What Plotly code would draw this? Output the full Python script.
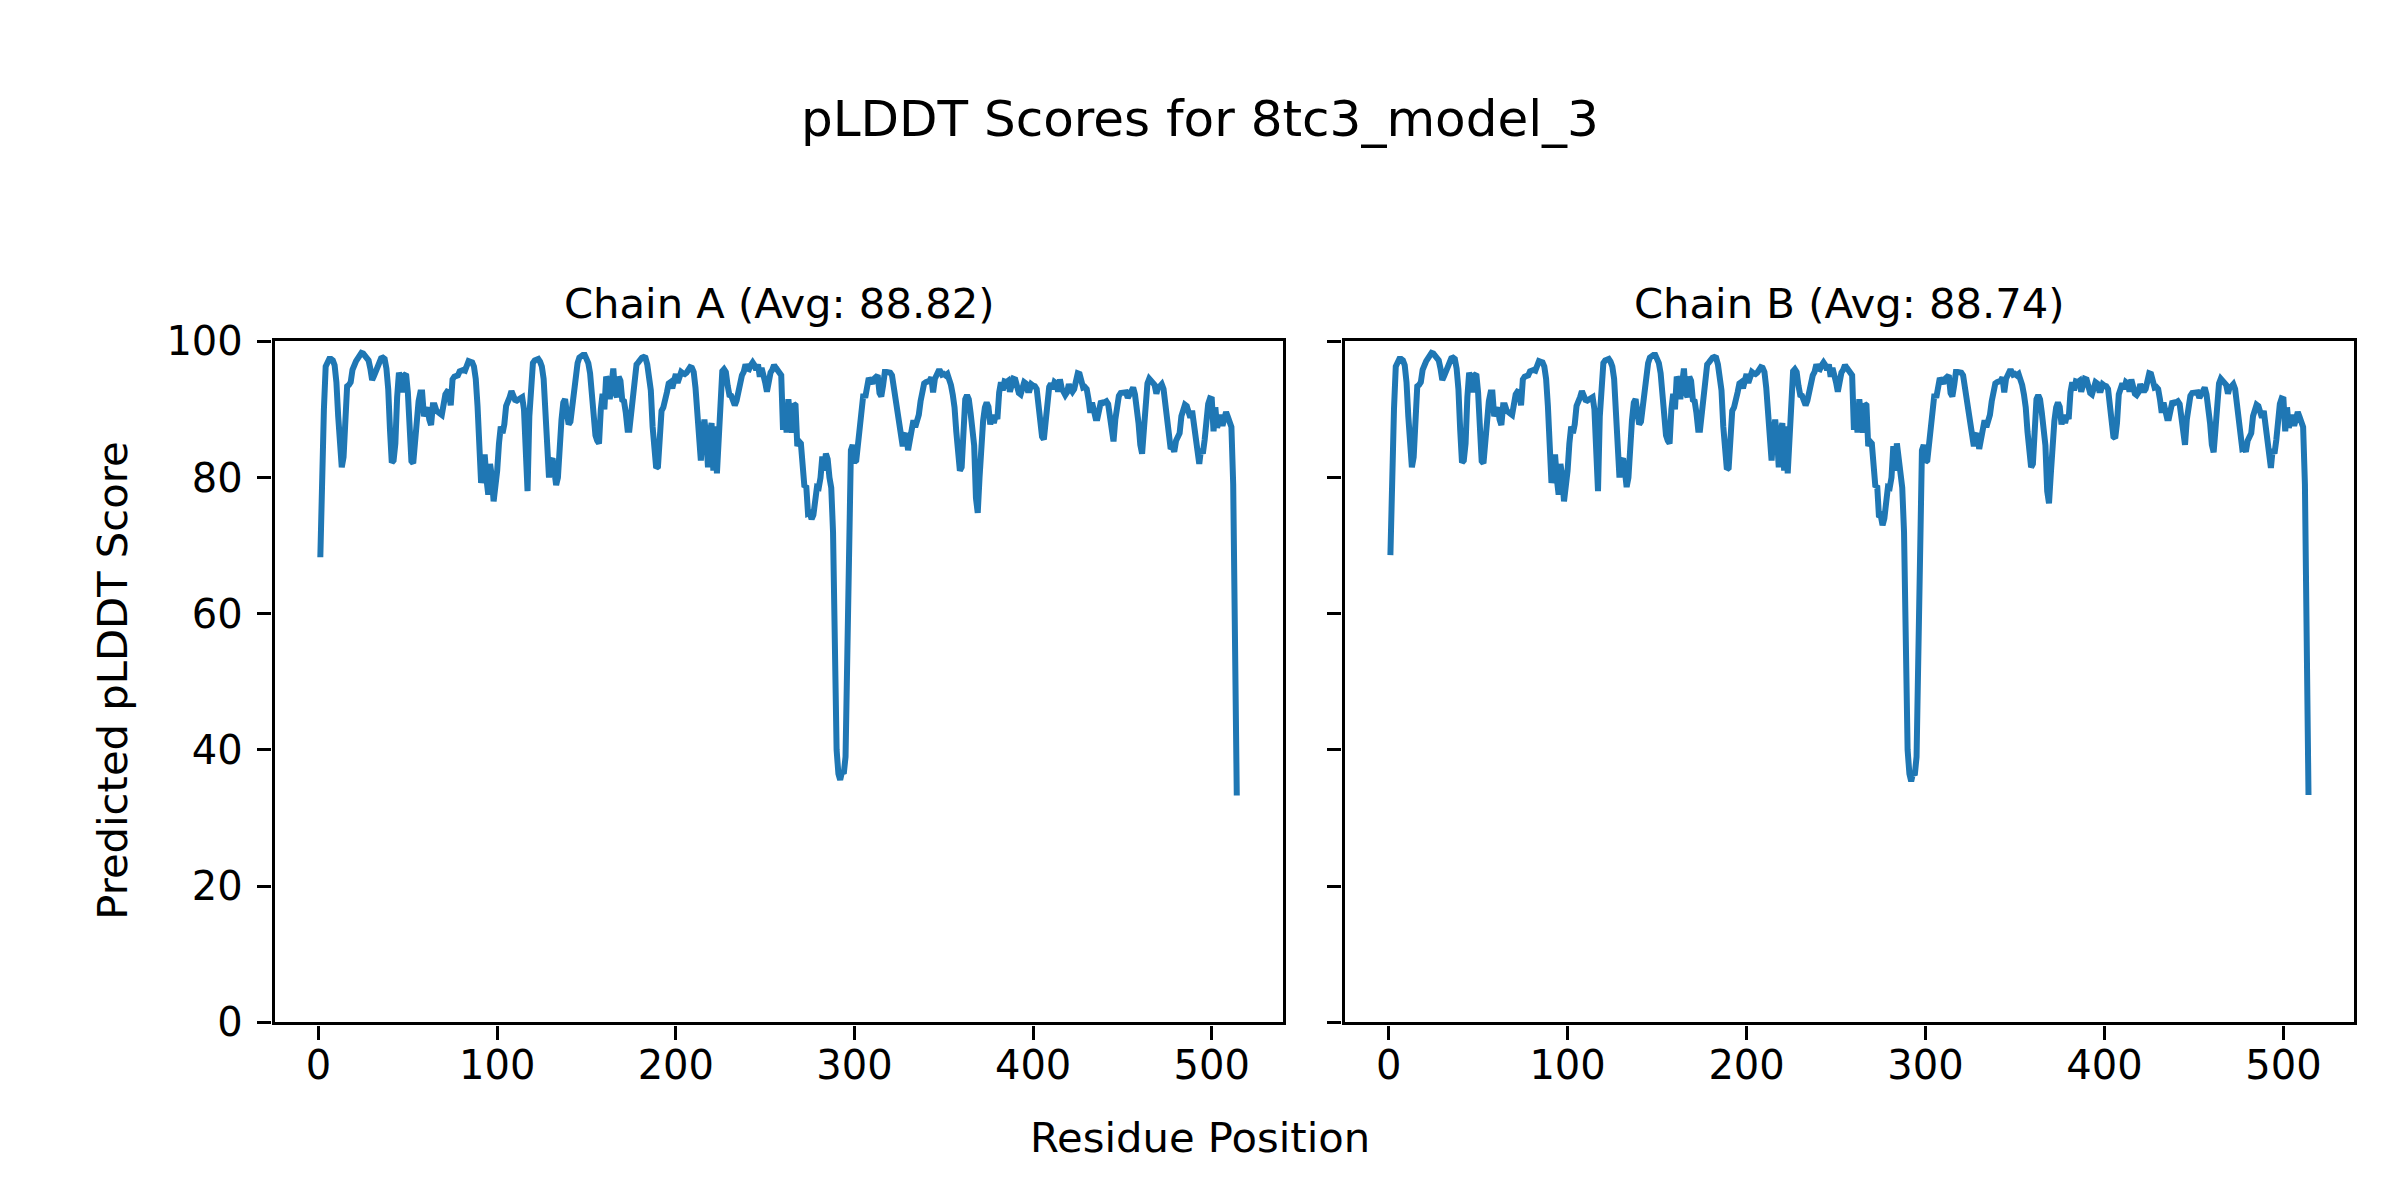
import plotly.graph_objects as go

# ---------------- data ----------------
chain_a_plddt = [
    68.3, 82, 90, 96.3, 96.8, 97.4, 97.4, 97.2, 96.5, 94,
    89, 84.5, 81.5, 83, 90, 93.4, 93.6, 94, 95.8, 96.8,
    97.1, 97.5, 97.9, 98.3, 98.2, 97.9, 97.7, 97.2, 96, 94.3,
    94.9, 95.6, 96.1, 97.2, 97.5, 97.6, 97.4, 96, 93, 87,
    82.2, 82.5, 85, 91.8, 95.4, 94.5, 92.5, 95, 95.2, 92.5,
    88, 82.4, 82.1, 85.5, 89.5, 91.2, 92.5, 92.5, 89, 89.5,
    90.3, 88.5, 87.7, 90.6, 90.6, 89.8, 89.4, 89.4, 89.2, 91.5,
    92.2, 92.6, 92.5, 90.6, 94.4, 94.8, 95, 95, 95.6, 95.8,
    95.8, 95.7, 96.9, 97.1, 97, 96.9, 96.3, 94.5, 90.5, 81,
    79.2, 81, 83.4, 79.8, 77.5, 82, 80.2, 76.5, 78.3, 81,
    85, 87.5, 86.5, 87.8, 90.5, 91, 91.8, 92.7, 92, 91.4,
    91.3, 91.5, 91.8, 91.8, 90, 83, 78, 89, 95, 96.8,
    97.2, 97.4, 97.4, 97, 96.3, 94.5, 88.5, 86, 80, 82.4,
    82.8, 81, 78.9, 80, 87, 88.5, 91, 91.5, 89.5, 87.8,
    88.2, 90.5, 93.5, 95.6, 96.8, 97.6, 98, 98, 98, 97.6, 96.8,
    95.3, 92.5, 88.5, 86.2, 85.4, 85, 90, 92.3, 90, 94.8,
    94.2, 91.5, 93.8, 96, 92.5, 91.8, 94.8, 94.2, 91.4, 91.2,
    89.5, 87, 87, 89.5, 91.3, 95.5, 96.6, 96.9, 97.4, 97.6,
    97.7, 97.6, 96.6, 95, 92.8, 87.5, 82.3, 81.4, 81.6, 85.5,
    89.8, 90.3, 91.2, 92.5, 93.8, 94, 93.1, 94.6, 95.2, 93.9,
    95.1, 95.5, 95.3, 95.2, 95.4, 96, 96.2, 96.1, 95.5, 93.2,
    88.5, 87, 82.5, 86.5, 88.5, 86, 81.5, 86.5, 88, 81,
    87.5, 80.6, 87, 92.5, 95.6, 95.9, 95.5, 93.5, 92.1, 92,
    91.2, 90.6, 91.3, 93, 94.6, 95, 95.5, 96.6, 96, 95.9,
    96.5, 96.9, 96.5, 95.8, 96.6, 94.8, 96.1, 95.2, 94, 92.6,
    94.5, 95.4, 95.8, 96.5, 96.1, 95.8, 95.6, 95, 87, 89.8,
    86.6, 91.5, 89, 86.6, 90.8, 90.6, 84.6, 85.3, 85, 80.5,
    78.6, 78.8, 74.7, 74.8, 73.9, 74.5, 77, 78.6, 78.5, 80,
    83.1, 81, 83.5, 82.7, 80, 78.5, 72, 52, 40, 36.5,
    35.6, 36.8, 36.5, 39, 52, 64, 84, 84.8, 82.3, 82.5,
    85.5, 88.2, 91.2, 92.3, 91.7, 92.8, 94.6, 94.2, 93.8, 94.5,
    94.8, 95, 92.4, 91.9, 93.5, 95.5, 95.5, 95.5, 95.4, 95, 93.4,
    91.6, 89.8, 88.5, 86.8, 84.6, 86, 86.5, 84, 85.5, 86.6,
    88.4, 87.4, 88.3, 89.2, 91.2, 92.8, 93.8, 94, 94, 94.2,
    94.7, 92.5, 94.5, 95, 95.6, 95.6, 95.1, 95.2, 95, 95.2,
    94.6, 93.6, 92.2, 90.3, 86.7, 84.4, 81, 81.5, 87, 91.5,
    92.1, 91.5, 89.5, 87.6, 84.7, 77, 74.8, 80, 85.3, 88.3,
    90.3, 91, 90.4, 87.8, 89.2, 88, 89.1, 88.6, 92.5, 94,
    92.8, 94.1, 94, 94.2, 92.6, 93.4, 94.5, 94.4, 93.3, 92.4,
    92.2, 93, 94, 93.8, 92.8, 92.8, 93.7, 93.5, 93.4, 93,
    91, 87.8, 86, 85.6, 88, 92.2, 93.3, 93.8, 93, 94,
    93.8, 92.6, 94.4, 93.1, 92.3, 92.1, 92.5, 93.7, 93, 92.6,
    93, 94.5, 95.3, 95.2, 94.3, 93.2, 93.3, 93, 91.5, 89.5,
    91, 90, 88.7, 88.7, 90.2, 91.2, 90.9, 91.1, 91.2, 90.8,
    88.5, 86.2, 85.3, 88.5, 91.4, 92, 92.4, 92.4, 92.3, 92.5, 91.7,
    92.2, 92.8, 93.2, 92.2, 90.5, 88, 84.8, 83.5, 87, 92,
    93.8, 94.5, 94.2, 94, 93.6, 92.3, 93.3, 93.4, 93.7, 93,
    91, 88.5, 86.5, 84.2, 84.5, 83.8, 85.4, 86, 86.5, 89,
    89.9, 90.7, 90.5, 89.7, 88.8, 89.8, 87.7, 87.2, 84.5, 82,
    84.2, 83.5, 85.5, 88.5, 90.8, 91.6, 91.5, 86.8, 90.3, 87.3,
    88.4, 89.2, 87.6, 88.7, 89.6, 88.9, 88.2, 87.4,
    79, 56, 33.3,
]

chain_b_plddt = [
    68.6, 82, 90, 96.3, 96.8, 97.4, 97.4, 97.2, 96.5, 94,
    89, 84.5, 81.5, 83, 90, 93.4, 93.6, 94, 95.8, 96.8,
    97.1, 97.5, 97.9, 98.3, 98.2, 97.9, 97.7, 97.2, 96, 94.3,
    94.9, 95.6, 96.1, 97.2, 97.5, 97.6, 97.4, 96, 93, 87,
    82.2, 82.5, 85, 91.8, 95.4, 94.5, 92.5, 95, 95.2, 92.5,
    88, 82.4, 82.1, 85.5, 89.5, 91.2, 92.5, 92.5, 89, 89.5,
    90.3, 88.5, 87.7, 90.6, 90.6, 89.8, 89.4, 89.4, 89.2, 91.5,
    92.2, 92.6, 92.5, 90.6, 94.4, 94.8, 95, 95, 95.6, 95.8,
    95.8, 95.7, 96.9, 97.1, 97, 96.9, 96.3, 94.5, 90.5, 81,
    79.2, 81, 83.4, 79.8, 77.5, 82, 80.2, 76.5, 78.3, 81,
    85, 87.5, 86.5, 87.8, 90.5, 91, 91.8, 92.7, 92, 91.4,
    91.3, 91.5, 91.8, 91.8, 90, 83, 78, 89, 95, 96.8,
    97.2, 97.4, 97.4, 97, 96.3, 94.5, 88.5, 86, 80, 82.4,
    82.8, 81, 78.6, 80, 87, 88.5, 91, 91.5, 89.5, 87.8,
    88.2, 90.5, 93.5, 95.6, 96.8, 97.6, 98, 98, 98, 97.6, 96.8,
    95.3, 92.5, 88.5, 86.2, 85.4, 85, 90, 92.3, 90, 94.8,
    94.2, 91.5, 93.8, 96, 92.5, 91.8, 94.8, 94.2, 91.4, 91.2,
    89.5, 87, 87, 89.5, 91.3, 95.5, 96.6, 96.9, 97.4, 97.6,
    97.7, 97.6, 96.6, 95, 92.8, 87.5, 82.3, 81.2, 81.4, 85.5,
    89.8, 90.3, 91.2, 92.5, 93.8, 94, 93.1, 94.6, 95.2, 93.9,
    95.1, 95.5, 95.3, 95.2, 95.4, 96, 96.2, 96.1, 95.5, 93.2,
    88.5, 87, 82.5, 86.5, 88.5, 86, 81.5, 86.5, 88, 81,
    87.5, 80.6, 87, 92.5, 95.6, 95.9, 95.5, 93.5, 92.1, 92,
    91.2, 90.6, 91.3, 93, 94.6, 95, 95.5, 96.6, 96, 95.9,
    96.5, 96.9, 96.5, 95.8, 96.6, 94.8, 96.1, 95.2, 94, 92.6,
    94.5, 95.4, 95.8, 96.5, 96.1, 95.8, 95.6, 95, 87, 89.8,
    86.6, 91.5, 89, 86.6, 90.8, 90.6, 84.6, 85.3, 85, 80.5,
    78.6, 78.8, 74.2, 74.4, 73.0, 74, 77, 78.6, 78.5, 80,
    84.6, 81, 85, 82.7, 80, 78.5, 72, 52, 40, 36.5,
    35.4, 36.6, 36.3, 39, 52, 64, 84, 84.8, 82.3, 82.5,
    85.5, 88.2, 91.2, 92.3, 91.7, 92.8, 94.6, 94.2, 93.8, 94.5,
    94.8, 95, 92.4, 91.9, 93.5, 95.5, 95.5, 95.5, 95.4, 95, 93.4,
    91.6, 89.8, 88.5, 86.8, 84.6, 86, 86.5, 84.2, 85.5, 86.6,
    88.4, 87.4, 88.3, 89.2, 91.2, 92.8, 93.8, 94, 94, 94.2,
    94.7, 92.5, 94.5, 95, 95.6, 95.6, 95.1, 95.2, 95, 95.2,
    94.6, 93.6, 92.2, 90.3, 86.7, 84.4, 81.5, 82, 87, 91.5,
    92.1, 91.5, 89.5, 87.6, 84.7, 78, 76.2, 80.5, 85.3, 88.3,
    90.3, 91, 90.4, 87.8, 89.2, 88, 89.1, 88.6, 92.5, 94,
    92.8, 94.1, 94, 94.2, 92.6, 93.4, 94.5, 94.4, 93.3, 92.4,
    92.2, 93, 94, 93.8, 92.8, 92.8, 93.7, 93.5, 93.4, 93,
    91, 87.8, 86, 85.8, 88, 92.2, 93.3, 93.8, 93, 94,
    93.8, 92.6, 94.4, 93.1, 92.3, 92.1, 92.5, 93.7, 93, 92.6,
    93, 94.5, 95.3, 95.2, 94.3, 93.2, 93.3, 93, 91.5, 89.5,
    91, 90, 88.7, 88.7, 90.2, 91.2, 90.9, 91.1, 91.2, 90.8,
    88.5, 86.2, 84.8, 88.5, 91.4, 92, 92.4, 92.4, 92.3, 92.5, 91.7,
    92.2, 92.8, 93.2, 92.2, 90.5, 88, 84.8, 83.7, 87, 92,
    93.8, 94.5, 94.2, 94, 93.6, 92.3, 93.3, 93.4, 93.7, 93,
    91, 88.5, 86.5, 84.2, 84.3, 83.8, 85.4, 86, 86.5, 89,
    89.9, 90.7, 90.5, 89.7, 88.8, 89.8, 87.7, 87.2, 84.5, 81.4,
    84.2, 83.5, 85.5, 88.5, 90.8, 91.6, 91.5, 86.8, 90.3, 87.3,
    88.4, 89.2, 87.6, 88.7, 89.6, 88.9, 88.2, 87.4,
    79, 56, 33.4,
]

residue_a = list(range(1, len(chain_a_plddt) + 1))
residue_b = list(range(1, len(chain_b_plddt) + 1))

suptitle = "pLDDT Scores for 8tc3_model_3"
title_a = "Chain A (Avg: 88.82)"
title_b = "Chain B (Avg: 88.74)"
x_label = "Residue Position"
y_label = "Predicted pLDDT Score"
x_ticks = [0, 100, 200, 300, 400, 500]
y_ticks = [0, 20, 40, 60, 80, 100]

# ---------------- figure ----------------
W, H = 2400, 1200
OFF = 8  # page body margin offset compensation
FONT = "DejaVu Sans"
LINE = "#1f77b4"

fig = go.Figure()
fig.add_trace(go.Scatter(x=residue_a, y=chain_a_plddt, mode="lines",
                         line=dict(color=LINE, width=6), xaxis="x", yaxis="y",
                         showlegend=False))
fig.add_trace(go.Scatter(x=residue_b, y=chain_b_plddt, mode="lines",
                         line=dict(color=LINE, width=6), xaxis="x2", yaxis="y2",
                         showlegend=False))

n = len(chain_a_plddt)
span = (n - 1)
x_range = [1 - 0.05 * span, n + 0.05 * span]

ax_left = (274.5 - OFF, 1282.6 - OFF)
ax_right = (1344.5 - OFF, 2354.4 - OFF)
ax_top, ax_bottom = 341.3 - OFF, 1022.4 - OFF

common = dict(showline=True, linecolor="black", linewidth=3.3, mirror=True,
              ticks="outside", ticklen=14.6, tickwidth=3.3, tickcolor="black",
              showgrid=False, zeroline=False, automargin=False,
              tickfont=dict(family=FONT, size=40, color="black"))

fig.update_layout(
    template="none",
    width=W, height=H, autosize=False,
    margin=dict(l=0, r=0, t=0, b=0, pad=0),
    paper_bgcolor="white", plot_bgcolor="white",
    font=dict(family=FONT, color="black"),
    xaxis=dict(domain=[ax_left[0] / W, ax_left[1] / W], range=x_range,
               tickvals=x_ticks, ticklabelstandoff=-9, anchor="y", **common),
    yaxis=dict(domain=[1 - ax_bottom / H, 1 - ax_top / H], range=[0, 100],
               tickvals=y_ticks, ticklabelstandoff=6, anchor="x", **common),
    xaxis2=dict(domain=[ax_right[0] / W, ax_right[1] / W], range=x_range,
                tickvals=x_ticks, ticklabelstandoff=-9, anchor="y2", **common),
    yaxis2=dict(domain=[1 - ax_bottom / H, 1 - ax_top / H], range=[0, 100],
                tickvals=y_ticks, showticklabels=False, anchor="x2", **common),
)

annotations = [
    dict(text=suptitle, x=(1200 - OFF) / W, y=1 - (119.4 - OFF) / H, font=dict(size=50)),
    dict(text=title_a, x=(ax_left[0] + ax_left[1]) / 2 / W, y=1 - (303 - OFF) / H, font=dict(size=41.7)),
    dict(text=title_b, x=(ax_right[0] + ax_right[1]) / 2 / W, y=1 - (303 - OFF) / H, font=dict(size=41.7)),
    dict(text=x_label, x=(1200 - OFF) / W, y=1 - (1137 - OFF) / H, font=dict(size=41.7)),
    dict(text=y_label, x=(111.7 - OFF) / W, y=1 - (681 - OFF) / H, textangle=-90, font=dict(size=41.7)),
]
for a in annotations:
    a.update(xref="paper", yref="paper", showarrow=False,
             xanchor="center", yanchor="middle")
    a["font"].update(family=FONT, color="black")
fig.update_layout(annotations=annotations)

fig.write_html("out.html")
